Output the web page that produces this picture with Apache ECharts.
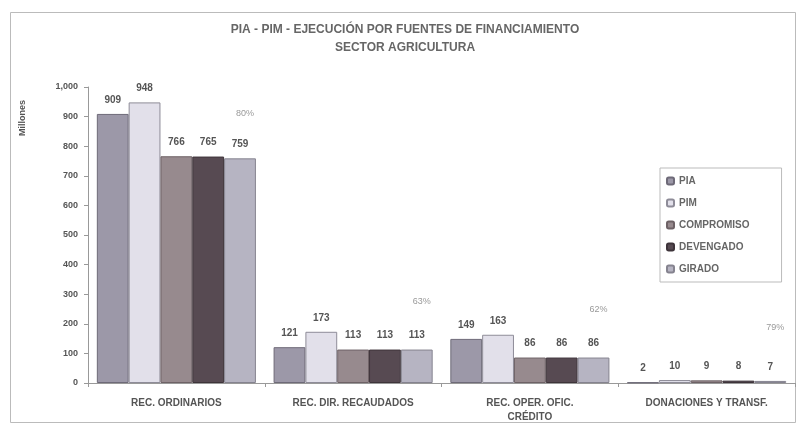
<!DOCTYPE html>
<html>
<head>
<meta charset="utf-8">
<script src="https://cdn.jsdelivr.net/npm/echarts@6/dist/echarts.min.js"></script>
<style>
  html, body { margin: 0; padding: 0; background: #fff; }
  #chart { width: 799px; height: 425px; }
</style>
</head>
<body>
<div id="chart"></div>
<script>
const categories = ["REC. ORDINARIOS", "REC. DIR. RECAUDADOS", "REC. OPER. OFIC.\nCRÉDITO", "DONACIONES Y TRANSF."]
const pia = [909, 121, 149, 2]
const pim = [948, 173, 163, 10]
const compromiso = [766, 113, 86, 9]
const devengado = [765, 113, 86, 8]
const girado = [759, 113, 86, 7]
// porcentaje de ejecución y altura aproximada donde se lee en la imagen
const porcentajes = ["80%", "63%", "62%", "79%"]
const alturaPorcentaje = [912, 274, 247, 189]

const myChart = echarts.init(document.getElementById("chart"))

function serie(name, data, color, border) {
    return {
        name: name,
        type: "bar",
        data: data,
        barGap: "0%",
        barCategoryGap: "10%",
        itemStyle: {
            color: color,
            borderColor: border,
            borderWidth: 1
        },
        label: {
            show: true,
            position: "top",
            distance: 9,
            color: "#555",
            fontSize: 10,
            fontWeight: "bold",
            fontFamily: "Liberation Sans"
        }
    }
}

const series = [
    serie("PIA", pia, "#9c98a8", "#6e6a78"),
    serie("PIM", pim, "#e2e0ea", "#8e8c98"),
    serie("COMPROMISO", compromiso, "#978a8e", "#6e6266"),
    serie("DEVENGADO", devengado, "#574a52", "#3e343a"),
    serie("GIRADO", girado, "#b6b4c2", "#85838f")
]

series[4].markPoint = {
    symbol: "circle",
    symbolSize: 1,
    itemStyle: { color: "rgba(0,0,0,0)" },
    label: {
        show: true,
        position: "inside",
        offset: [5, 0],
        color: "#999",
        fontSize: 9,
        fontFamily: "Liberation Sans",
        formatter: p => p.name
    },
    data: porcentajes.map((t, i) => ({ name: t, coord: [i, alturaPorcentaje[i]] }))
}

myChart.setOption({
    backgroundColor: "#fff",
    animation: false,
    title: {
        text: "PIA - PIM - EJECUCIÓN POR FUENTES DE FINANCIAMIENTO\nSECTOR AGRICULTURA",
        left: 400,
        top: 16,
        textAlign: "center",
        textStyle: {
            fontSize: 12,
            fontWeight: "bold",
            color: "#666",
            fontFamily: "Liberation Sans",
            lineHeight: 18
        }
    },
    graphic: [{
        type: "rect",
        shape: { x: 10.5, y: 12.5, width: 785, height: 410 },
        style: { fill: "none", stroke: "#bbb", lineWidth: 1 },
        silent: true,
        z: -1
    }, {
        type: "text",
        x: 18,
        y: 136,
        rotation: Math.PI / 2,
        style: {
            text: "Millones",
            fill: "#555",
            font: "bold 9px 'Liberation Sans'"
        },
        silent: true
    }],
    legend: {
        orient: "vertical",
        left: 660,
        top: 168,
        itemWidth: 7,
        itemHeight: 7,
        itemGap: 12,
        padding: [8, 32, 8, 6],
        borderColor: "#bbb",
        borderWidth: 1,
        textStyle: {
            fontSize: 10,
            fontWeight: "bold",
            color: "#666",
            fontFamily: "Liberation Sans"
        },
        data: ["PIA", "PIM", "COMPROMISO", "DEVENGADO", "GIRADO"]
    },
    grid: {
        left: 88,
        right: 4,
        top: 87,
        bottom: 42
    },
    xAxis: {
        type: "category",
        data: categories,
        axisLine: { lineStyle: { color: "#999" } },
        axisTick: { show: true, length: 4, lineStyle: { color: "#999" } },
        axisLabel: {
            color: "#555",
            fontSize: 10,
            fontWeight: "bold",
            margin: 13,
            lineHeight: 14,
            fontFamily: "Liberation Sans"
        }
    },
    yAxis: {
        type: "value",
        min: 0,
        max: 1000,
        interval: 100,
        splitLine: { show: false },
        axisLine: { show: true, lineStyle: { color: "#999" } },
        axisTick: { show: true, length: 4, lineStyle: { color: "#999" } },
        axisLabel: {
            color: "#555",
            fontSize: 9,
            fontWeight: "bold",
            margin: 10,
            fontFamily: "Liberation Sans",
            formatter: v => v.toLocaleString("en-US")
        }
    },
    series: series
})
</script>
</body>
</html>
